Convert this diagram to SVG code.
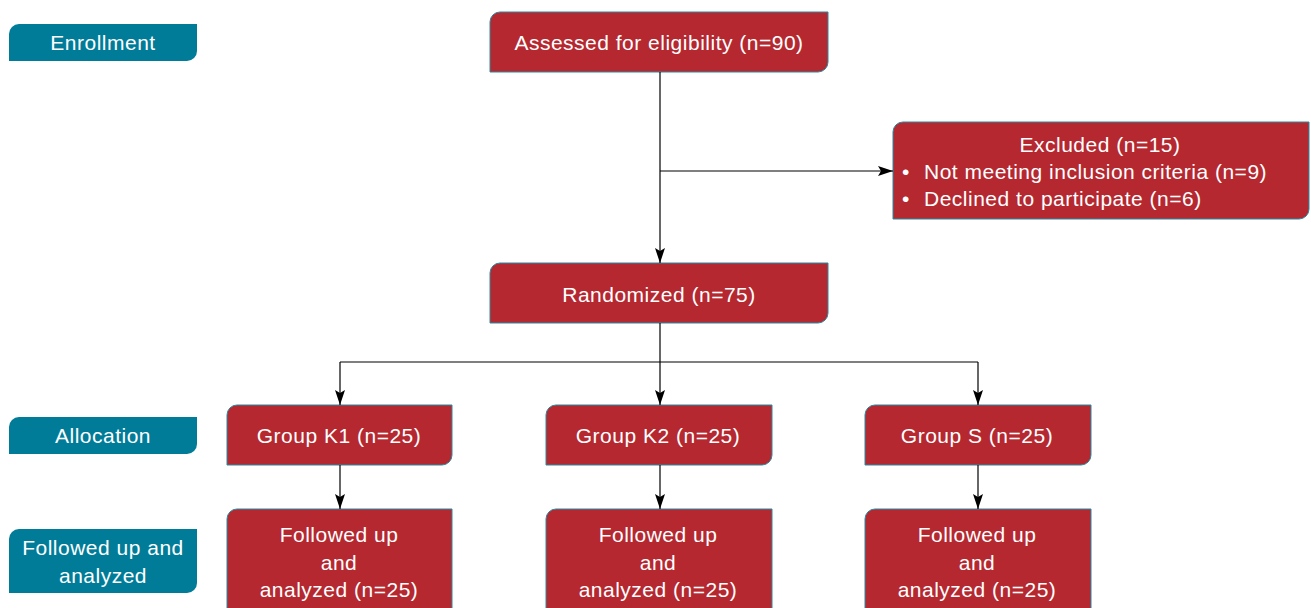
<svg xmlns="http://www.w3.org/2000/svg" width="1311" height="608" viewBox="0 0 1311 608">
<defs>
<style>
.red{fill:#b52830;stroke:#2a8aa0;stroke-width:1}
.teal{fill:#007c99;stroke:none}
text{font-family:"Liberation Sans",Arial,sans-serif;font-size:21px;letter-spacing:0.5px;fill:#fff}
.c{text-anchor:middle}
.ln{fill:none;stroke:#000;stroke-width:1.2}
</style>
<marker id="ah" viewBox="0 0 15 10" refX="15" refY="5" markerWidth="15" markerHeight="10" markerUnits="userSpaceOnUse" orient="auto"><path d="M0,0 L15,5 L0,10 L3,5 z" fill="#000"/></marker>
</defs>
<g id="lbl-enrollment"><path class="teal" d="M19,24 H197 V51 A10,10 0 0 1 187,61 H9 V34 A10,10 0 0 1 19,24 Z"/><text class="c" x="103" y="50">Enrollment</text></g>
<g id="lbl-allocation"><path class="teal" d="M19,417 H197 V444 A10,10 0 0 1 187,454 H9 V427 A10,10 0 0 1 19,417 Z"/><text class="c" x="103" y="443">Allocation</text></g>
<g id="lbl-followed"><path class="teal" d="M19,529 H197 V583 A10,10 0 0 1 187,593 H9 V539 A10,10 0 0 1 19,529 Z"/><text class="c" x="103" y="555">Followed up and</text><text class="c" x="103" y="583">analyzed</text></g>
<g id="assessed"><path class="red" d="M500,12 H828 V62 A10,10 0 0 1 818,72 H490 V22 A10,10 0 0 1 500,12 Z"/><text class="c" x="659" y="50">Assessed for eligibility (n=90)</text></g>
<g id="excluded"><path class="red" d="M903,122 H1309 V209 A10,10 0 0 1 1299,219 H893 V132 A10,10 0 0 1 903,122 Z"/><text class="c" x="1100" y="152">Excluded (n=15)</text><text x="902" y="179">•</text><text x="924" y="179">Not meeting inclusion criteria (n=9)</text><text x="902" y="206">•</text><text x="924" y="206">Declined to participate (n=6)</text></g>
<g id="randomized"><path class="red" d="M500,263 H828 V313 A10,10 0 0 1 818,323 H490 V273 A10,10 0 0 1 500,263 Z"/><text class="c" x="659" y="302">Randomized (n=75)</text></g>
<g id="k1"><path class="red" d="M237,405 H452 V455 A10,10 0 0 1 442,465 H227 V415 A10,10 0 0 1 237,405 Z"/><text class="c" x="339" y="443">Group K1 (n=25)</text></g>
<g id="k2"><path class="red" d="M556,405 H772 V455 A10,10 0 0 1 762,465 H546 V415 A10,10 0 0 1 556,405 Z"/><text class="c" x="658" y="443">Group K2 (n=25)</text></g>
<g id="s"><path class="red" d="M875,405 H1091 V455 A10,10 0 0 1 1081,465 H865 V415 A10,10 0 0 1 875,405 Z"/><text class="c" x="977" y="443">Group S (n=25)</text></g>
<g id="f1"><path class="red" d="M237,509 H452 V620 H227 V519 A10,10 0 0 1 237,509 Z"/><text class="c" x="339" y="542">Followed up</text><text class="c" x="339" y="570">and</text><text class="c" x="339" y="597">analyzed (n=25)</text></g>
<g id="f2"><path class="red" d="M556,509 H772 V620 H546 V519 A10,10 0 0 1 556,509 Z"/><text class="c" x="658" y="542">Followed up</text><text class="c" x="658" y="570">and</text><text class="c" x="658" y="597">analyzed (n=25)</text></g>
<g id="f3"><path class="red" d="M875,509 H1091 V620 H865 V519 A10,10 0 0 1 875,509 Z"/><text class="c" x="977" y="542">Followed up</text><text class="c" x="977" y="570">and</text><text class="c" x="977" y="597">analyzed (n=25)</text></g>
<g id="connectors">
<path class="ln" d="M660,72 V263" marker-end="url(#ah)"/>
<path class="ln" d="M660,171 H893" marker-end="url(#ah)"/>
<path class="ln" d="M660,323 V362"/>
<path class="ln" d="M340,362 H978"/>
<path class="ln" d="M340,362 V405" marker-end="url(#ah)"/>
<path class="ln" d="M660,362 V405" marker-end="url(#ah)"/>
<path class="ln" d="M978,362 V405" marker-end="url(#ah)"/>
<path class="ln" d="M340,465 V509" marker-end="url(#ah)"/>
<path class="ln" d="M660,465 V509" marker-end="url(#ah)"/>
<path class="ln" d="M978,465 V509" marker-end="url(#ah)"/>
</g>
</svg>
